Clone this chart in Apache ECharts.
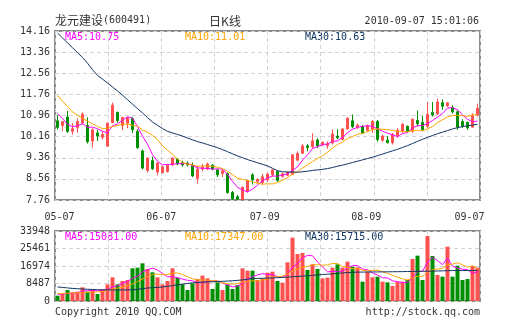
<!DOCTYPE html>
<html><head><meta charset="utf-8">
<script src="https://cdn.jsdelivr.net/npm/echarts@6.0.0/dist/echarts.min.js"></script>
<style>html,body{margin:0;padding:0;background:#fff}#c{width:505px;height:330px}</style>
</head><body><div id="c"></div>
<script>
const dates = ['05-07','05-10','05-11','05-12','05-13','05-14','05-17','05-18','05-19','05-20','05-21','05-24','05-25','05-26','05-27','05-28','05-31',
'06-01','06-02','06-03','06-04','06-07','06-08','06-09','06-10','06-11','06-17','06-18','06-21','06-22','06-23','06-24','06-25','06-28','06-29','06-30',
'07-01','07-02','07-05','07-06','07-07','07-08','07-09','07-12','07-13','07-14','07-15','07-16','07-19','07-20','07-21','07-22','07-23','07-26','07-27','07-28','07-29','07-30',
'08-02','08-03','08-04','08-05','08-06','08-09','08-10','08-11','08-12','08-13','08-16','08-17','08-18','08-19','08-20','08-23','08-24','08-25','08-26','08-27','08-30','08-31',
'09-01','09-02','09-03','09-06','09-07'];
const opens = [10.76,10.58,10.90,10.36,10.51,10.69,10.58,9.99,10.30,10.14,
9.80,10.69,11.08,10.58,10.67,10.85,10.36,9.62,8.88,9.25,
8.82,8.80,8.84,9.09,9.31,9.18,9.16,9.08,8.58,8.93,
8.93,9.08,8.90,8.76,8.76,8.05,7.88,7.78,8.10,8.71,
8.45,8.42,8.52,8.71,8.84,8.66,8.70,8.73,9.27,9.53,
9.81,9.78,10.03,9.84,9.81,9.92,10.18,10.05,10.45,10.76,
10.52,10.54,10.40,10.45,10.73,10.02,10.03,9.93,10.18,10.36,
10.55,10.36,10.77,10.70,10.55,11.07,11.02,11.44,11.32,11.26,
11.10,10.73,10.70,10.52,10.98];
const closes = [10.51,10.73,10.36,10.46,10.73,11.01,9.97,10.42,10.18,10.24,
10.67,11.35,10.77,10.88,10.88,10.42,9.74,8.97,9.35,8.94,
9.16,9.01,9.08,9.35,9.12,9.09,9.09,8.67,8.93,9.01,
9.12,8.93,8.71,8.86,8.04,7.80,7.78,8.24,8.50,8.52,
8.54,8.64,8.74,8.90,8.50,8.75,8.81,9.47,9.52,9.81,
9.74,10.00,9.81,9.94,9.89,10.26,10.12,10.45,10.85,10.54,
10.60,10.30,10.58,10.73,10.05,10.18,9.93,10.24,10.40,10.63,
10.36,10.82,10.65,10.42,11.00,10.98,11.47,11.31,11.44,11.10,
10.52,10.57,10.49,10.94,11.23];
const lows = [10.42,10.36,10.30,10.24,10.30,10.61,9.90,9.74,9.99,10.05,
9.78,10.69,10.69,10.40,10.48,10.30,9.70,8.92,8.80,8.90,
8.70,8.76,8.80,9.05,9.08,9.02,9.03,8.63,8.38,8.84,
8.90,8.88,8.63,8.63,8.00,7.76,7.76,7.76,8.04,8.35,
8.40,8.35,8.45,8.66,8.45,8.60,8.66,8.70,9.22,9.50,
9.60,9.72,9.72,9.80,9.70,9.86,10.06,10.02,10.42,10.48,
10.45,10.28,10.36,10.30,9.97,9.97,9.90,9.86,10.12,10.30,
10.30,10.30,10.55,10.40,10.49,10.92,10.98,11.18,11.28,11.04,
10.42,10.49,10.42,10.49,10.92];
const highs = [10.98,10.75,11.13,10.67,10.85,11.08,10.89,10.48,10.42,10.36,
10.69,11.45,11.10,10.92,10.90,10.90,10.45,9.67,9.37,9.40,
9.20,9.06,9.12,9.37,9.35,9.25,9.22,9.18,9.05,9.12,
9.18,9.12,8.93,8.93,8.80,8.10,7.95,8.28,8.52,8.78,
8.58,8.75,8.80,8.93,8.88,8.80,8.84,9.50,9.60,9.88,
9.88,10.29,10.10,9.98,9.98,10.44,10.44,10.48,10.90,11.00,
10.65,10.60,10.62,10.79,10.79,10.24,10.18,10.30,10.49,10.67,
10.58,10.85,11.14,10.94,11.47,11.47,11.60,11.57,11.47,11.35,
11.16,10.82,10.73,11.04,11.41];
const ma5 = [11.04,10.85,10.62,10.54,
10.56,10.66,10.51,10.52,10.46,10.36,10.30,10.57,10.64,10.78,
10.91,10.86,10.54,10.18,9.87,9.48,9.23,9.09,9.11,9.11,
9.14,9.13,9.15,9.06,8.98,8.96,8.96,8.93,8.94,8.93,
8.73,8.47,8.24,8.14,8.07,8.17,8.32,8.49,8.59,8.67,
8.66,8.71,8.74,8.89,9.01,9.27,9.47,9.71,9.78,9.86,
9.88,9.98,10.00,10.13,10.31,10.44,10.51,10.55,10.57,10.55,
10.45,10.37,10.29,10.23,10.16,10.28,10.31,10.49,10.57,10.58,
10.65,10.77,10.90,11.04,11.24,11.26,11.17,10.99,10.82,10.72,10.75];
const ma10 = [11.72,11.50,11.30,11.10,10.97,10.85,10.75,10.64,10.55,
10.46,10.48,10.54,10.58,10.62,10.64,10.58,10.56,10.41,10.33,
10.20,10.05,9.81,9.64,9.49,9.31,9.18,9.12,9.09,9.04,
9.05,9.05,9.04,9.00,8.95,8.85,8.72,8.59,8.54,8.50,
8.45,8.39,8.36,8.37,8.37,8.42,8.51,8.61,8.74,8.84,
8.97,9.09,9.22,9.33,9.44,9.57,9.73,9.86,9.95,10.09,
10.16,10.25,10.28,10.35,10.43,10.45,10.44,10.42,10.40,10.36,
10.36,10.34,10.39,10.40,10.37,10.46,10.54,10.70,10.80,10.91,
10.96,10.97,10.95,10.93,10.98,11.01];
const ma30 = [14.08,13.90,13.71,13.53,13.34,13.16,12.94,12.69,12.48,12.34,
12.19,12.04,11.89,11.73,11.56,11.39,11.22,11.06,10.88,10.71,
10.59,10.47,10.36,10.30,10.24,10.18,10.11,10.04,9.97,9.92,
9.86,9.80,9.74,9.67,9.59,9.51,9.43,9.36,9.29,9.23,
9.17,9.11,9.05,8.96,8.87,8.83,8.82,8.82,8.81,8.83,
8.85,8.88,8.90,8.92,8.95,8.99,9.04,9.08,9.13,9.18,
9.23,9.28,9.33,9.38,9.44,9.50,9.56,9.62,9.68,9.75,
9.82,9.90,9.98,10.06,10.13,10.20,10.27,10.33,10.39,10.45,
10.50,10.54,10.57,10.60,10.63];
const volumes = [2590,3400,5340,4040,4530,6630,4530,5660,3400,5660,
8080,11480,8080,9700,10190,15840,16170,18270,15520,13900,
11480,8080,9700,15840,11320,8080,5340,8570,10670,12290,
10990,5820,9050,5340,8080,5820,7760,15840,14720,14720,
10190,10990,13740,14230,9700,8890,18750,30720,22800,23280,
15040,17780,15520,10990,11320,16170,17780,16170,19080,16650,
16330,9380,14230,11480,11800,9380,9050,7280,9380,9380,
10190,20370,21990,10190,31530,21830,12610,11800,26350,11800,
17140,10190,10670,17000,16170];
const vma5 = [3300,3400,3600,3800,
3980,4788,5014,5078,4950,5176,5466,6856,7340,8600,
9506,11058,11996,14034,15198,15940,15068,13450,11736,11800,
11284,10604,10056,9830,8796,8990,9572,9668,9764,8698,
7856,6822,7210,8568,10444,11772,12646,13292,12872,12774,
11770,11510,13062,16458,18172,20888,22118,21924,18884,16522,
14130,14356,14356,14486,16104,17170,17202,15522,15134,13614,
12644,11254,11188,9798,9378,8894,9056,11320,14262,14424,
18854,21182,19630,17592,20824,16878,15940,15456,15230,13360,14234];
const vma10 = [3600,3700,3800,3900,4000,4100,4200,4300,4400,
4578,5127,5935,6209,6775,7341,8262,9426,10687,11899,
12723,13063,12723,12885,13499,13612,12836,11753,10783,10298,
10137,10088,9862,9797,8747,8423,8197,8439,9166,9571,
9814,9734,10251,10720,11609,11771,12078,13177,14665,15473,
16329,16814,17493,17671,17347,17509,18237,18140,16685,16313,
15650,15779,14939,14810,14859,14907,14228,13355,12466,11496,
10769,10155,11254,12030,11901,13874,15119,15475,15927,17624,
17866,18561,17543,16411,17092,15556];
const vma30 = [6800,6600,6350,6100,5950,5800,5700,5600,5500,5400,
5380,5360,5350,5360,5380,5400,5650,5950,6300,6450,
6600,6800,7100,7450,7800,8150,8500,8800,8950,9146,
9250,9350,9450,9550,9650,9800,10000,10250,10550,10891,
10950,11000,11100,11200,11300,11450,11600,11750,11900,12093,
12250,12450,12650,12850,13000,13200,13400,13600,13780,13931,
13990,14030,14060,14080,14100,14130,14160,14190,14220,14249,
14300,14350,14400,14420,14450,14500,14550,14620,14690,14762,
14770,14775,14778,14779,14779];
const priceTicks = ['7.76','8.56','9.36','10.16','10.96','11.76','12.56','13.36','14.16'];
const volTicks = ['0','8487','16974','25461','33948'];
const xLabels = ['05-07','06-07','07-09','08-09','09-07'];
const xLabelPos = [0.9, 21.25, 41.95, 62.25, 82.9];

const UP = '#ff5050', DOWN = '#008f00';
const C5 = '#ff00ff', C10 = '#ffa500', C30 = '#0f3562';
const MONO = 'DejaVu Sans Mono';
const CJK = 'Noto Sans CJK SC';
const gridLine = {show:true, lineStyle:{color:'#d3d3d3', width:1, type:[4,3]}};

const chart = echarts.init(document.getElementById('c'), null, {renderer:'canvas'});
const nearest = (arr, v) => { let b = 0; arr.forEach((a, i) => { if (Math.abs(a - v) < Math.abs(arr[b] - v)) b = i; }); return b; };

chart.setOption({
  animation:false,
  backgroundColor:'#fff',
  grid:[
    {left:55, right:25, top:31, height:169, show:true, borderColor:'#8a8a8a', borderWidth:2, backgroundColor:'transparent'},
    {left:55, right:25, top:231, height:70, show:true, borderColor:'#8a8a8a', borderWidth:2, backgroundColor:'transparent'}
  ],
  xAxis:[
    {type:'category', gridIndex:0, data:dates, boundaryGap:true, show:false, position:'top'},
    {type:'value', gridIndex:0, position:'bottom', min:0, max:85, interval:10.625, axisLine:{show:false}, axisTick:{show:false},
      splitLine:gridLine,
      axisLabel:{customValues:xLabelPos, formatter:(v)=>xLabels[nearest(xLabelPos, v)], color:'#333', fontFamily:MONO, fontSize:10, margin:12}},
    {type:'category', gridIndex:1, data:dates, boundaryGap:true, show:false, position:'top'},
    {type:'value', gridIndex:1, position:'bottom', min:0, max:85, interval:10.625, axisLine:{show:false}, axisTick:{show:false},
      splitLine:gridLine, axisLabel:{show:false}}
  ],
  yAxis:[
    {type:'value', gridIndex:0, position:'right', min:7.76, max:14.16, show:false},
    {type:'value', gridIndex:0, position:'left', min:0, max:8, interval:1, axisLine:{show:false}, axisTick:{show:false},
      splitLine:gridLine,
      axisLabel:{formatter:(v)=>priceTicks[Math.round(v)], color:'#333', fontFamily:MONO, fontSize:10, margin:5}},
    {type:'value', gridIndex:1, position:'left', min:0, max:33948, interval:8487, axisLine:{show:false}, axisTick:{show:false},
      splitLine:gridLine,
      axisLabel:{formatter:(v)=>volTicks[Math.round(v/8487)], color:'#333', fontFamily:MONO, fontSize:10, margin:5}}
  ],
  series:[
    {type:'candlestick', xAxisIndex:0, yAxisIndex:0, barWidth:3,
      data:dates.map((d,i)=>[opens[i], closes[i], lows[i], highs[i]]),
      itemStyle:{color:UP, color0:DOWN, borderColor:UP, borderColor0:DOWN, borderWidth:1}, z:2},
    {type:'line', xAxisIndex:0, yAxisIndex:0, data:ma5, symbol:'none', lineStyle:{color:C5, width:1}, z:3},
    {type:'line', xAxisIndex:0, yAxisIndex:0, data:ma10, symbol:'none', lineStyle:{color:C10, width:1}, z:3},
    {type:'line', xAxisIndex:0, yAxisIndex:0, data:ma30, symbol:'none', lineStyle:{color:C30, width:1}, z:3},
    {type:'bar', xAxisIndex:2, yAxisIndex:2, barWidth:4,
      data:volumes.map((v,i)=>({value:v, itemStyle:{color: closes[i] >= opens[i] ? UP : DOWN}})), z:2},
    {type:'line', xAxisIndex:2, yAxisIndex:2, data:vma5, symbol:'none', lineStyle:{color:C5, width:1}, z:3},
    {type:'line', xAxisIndex:2, yAxisIndex:2, data:vma10, symbol:'none', lineStyle:{color:C10, width:1}, z:3},
    {type:'line', xAxisIndex:2, yAxisIndex:2, data:vma30, symbol:'none', lineStyle:{color:C30, width:1}, z:3}
  ],
  graphic:[
    {type:'text', left:55, top:14, style:{text:'{a|龙元建设}{b|(600491)}', rich:{a:{font:'12px "'+CJK+'"', fill:'#333'}, b:{font:'10px "'+MONO+'"', fill:'#333'}}}},
    {type:'text', x:225, y:21, style:{text:'日K线', font:'12px "'+CJK+'"', fill:'#333', textAlign:'center', textVerticalAlign:'middle'}},
    {type:'text', x:479, y:21, style:{text:'2010-09-07 15:01:06', font:'10px "'+MONO+'"', fill:'#333', textAlign:'right', textVerticalAlign:'middle'}},
    {type:'text', x:65, y:37, style:{text:'MA5:10.75', font:'10px "'+MONO+'"', fill:C5, textVerticalAlign:'middle'}},
    {type:'text', x:185, y:37, style:{text:'MA10:11.01', font:'10px "'+MONO+'"', fill:C10, textVerticalAlign:'middle'}},
    {type:'text', x:305, y:37, style:{text:'MA30:10.63', font:'10px "'+MONO+'"', fill:C30, textVerticalAlign:'middle'}},
    {type:'text', x:65, y:237, style:{text:'MA5:15081.00', font:'10px "'+MONO+'"', fill:C5, textVerticalAlign:'middle'}},
    {type:'text', x:185, y:237, style:{text:'MA10:17347.00', font:'10px "'+MONO+'"', fill:C10, textVerticalAlign:'middle'}},
    {type:'text', x:305, y:237, style:{text:'MA30:15715.00', font:'10px "'+MONO+'"', fill:C30, textVerticalAlign:'middle'}},
    {type:'text', x:55, y:312, style:{text:'Copyright 2010 QQ.COM', font:'10px "'+MONO+'"', fill:'#333', textVerticalAlign:'middle'}},
    {type:'text', x:480, y:312, style:{text:'http://stock.qq.com', font:'10px "'+MONO+'"', fill:'#333', textAlign:'right', textVerticalAlign:'middle'}}
  ]
});
</script>
</body></html>
